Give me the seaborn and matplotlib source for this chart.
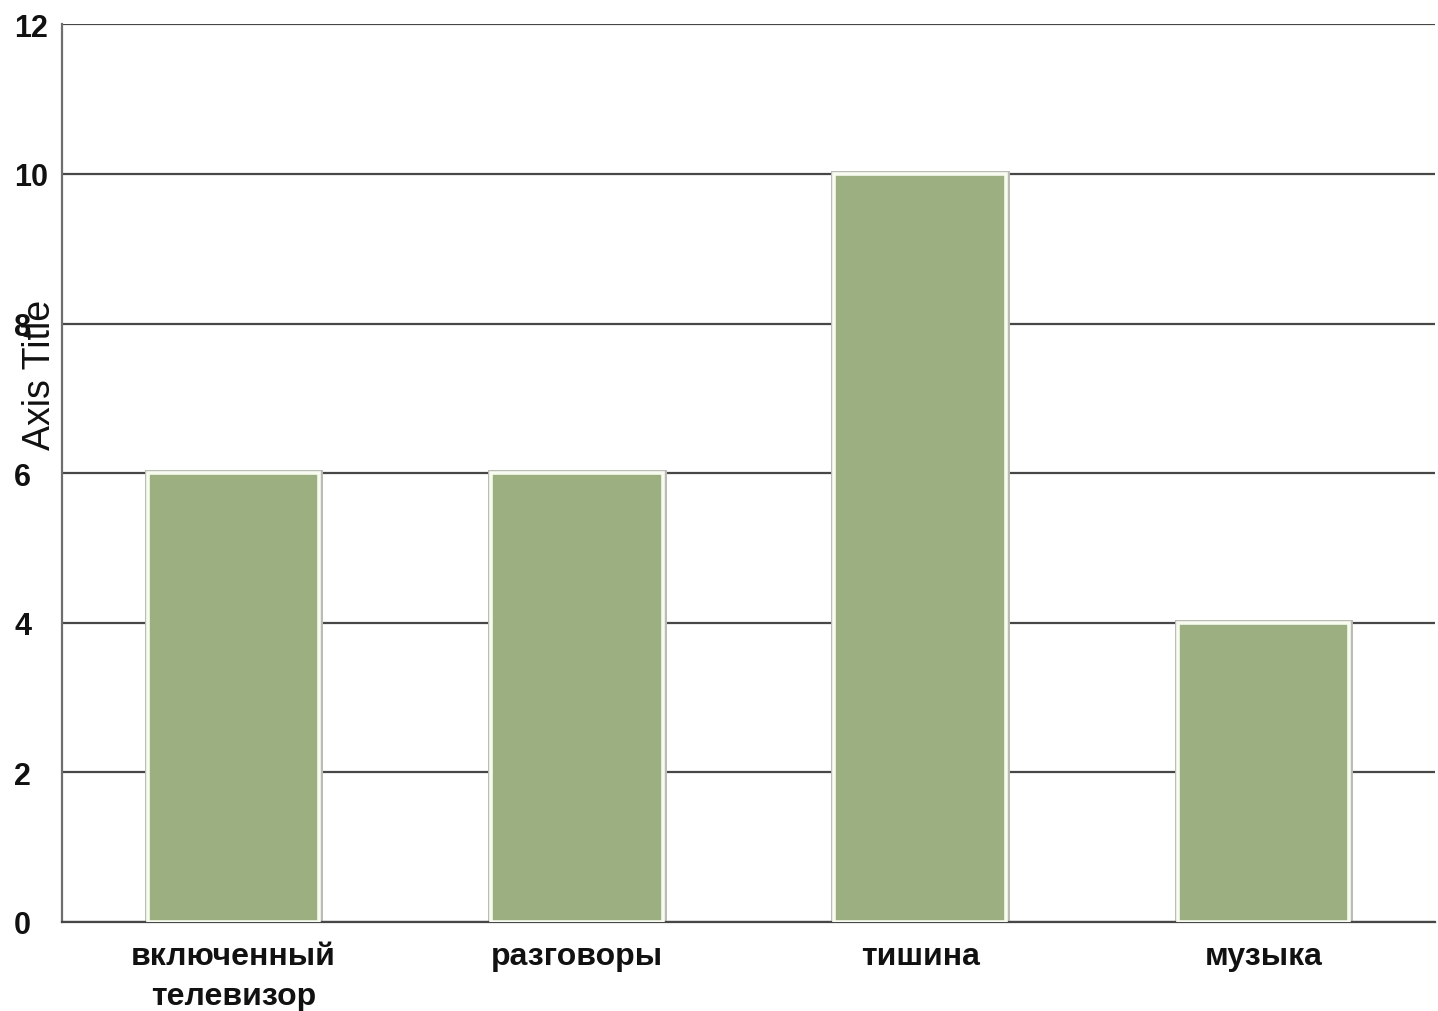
import matplotlib
matplotlib.use("Agg")
import matplotlib.pyplot as plt
import seaborn as sns
import pandas as pd

categories = ["включенный\nтелевизор", "разговоры", "тишина", "музыка"]
values = [6, 6, 10, 4]
y_ticks = [0, 2, 4, 6, 8, 10, 12]

sns.set_theme(style="white")
plt.rcParams["font.family"] = ["Liberation Sans", "DejaVu Sans"]

df = pd.DataFrame({"category": categories, "value": values})

fig = plt.figure(figsize=(14.38, 10.12), dpi=100)
ax = fig.add_axes([0.0431, 0.088, 0.955, 0.887])

# grey outer rim, then light inner rim with the green fill
sns.barplot(data=df, x="category", y="value", ax=ax, color="#9BAF80",
            saturation=1, width=0.5, edgecolor="#B8BCB4", linewidth=5.0, zorder=2)
sns.barplot(data=df, x="category", y="value", ax=ax, color="#9BAF80",
            saturation=1, width=0.5, edgecolor="#F8FBEF", linewidth=2.6, zorder=3)

ax.set_xlim(-0.5, 3.5)
ax.set_ylim(0, 12)
ax.set_yticks(y_ticks)
ax.set_yticklabels([str(t) for t in y_ticks])
ax.yaxis.grid(True, color="#474747", linewidth=1.6, zorder=1)
ax.set_axisbelow(True)

for side in ["top", "right"]:
    ax.spines[side].set_visible(False)
ax.spines["left"].set_color("#6E6E6E")
ax.spines["left"].set_linewidth(1.6)
ax.spines["bottom"].set_color("#474747")
ax.spines["bottom"].set_linewidth(1.6)

ax.tick_params(axis="y", length=0, pad=34.5, labelsize=22, labelcolor="#111111")
ax.tick_params(axis="x", length=0, pad=14, labelsize=23, labelcolor="#111111")
for lbl in ax.get_yticklabels():
    lbl.set_fontweight("bold")
    lbl.set_horizontalalignment("left")
for lbl in ax.get_xticklabels():
    lbl.set_fontweight("bold")
    lbl.set_linespacing(1.4)

ax.set_xlabel("")
ax.set_ylabel("")
ax.text(-0.016, 0.61, "Axis Title", transform=ax.transAxes, rotation=90,
        ha="center", va="center", fontsize=27, color="#111111")

fig.savefig("out.png", dpi=100, facecolor="white")
